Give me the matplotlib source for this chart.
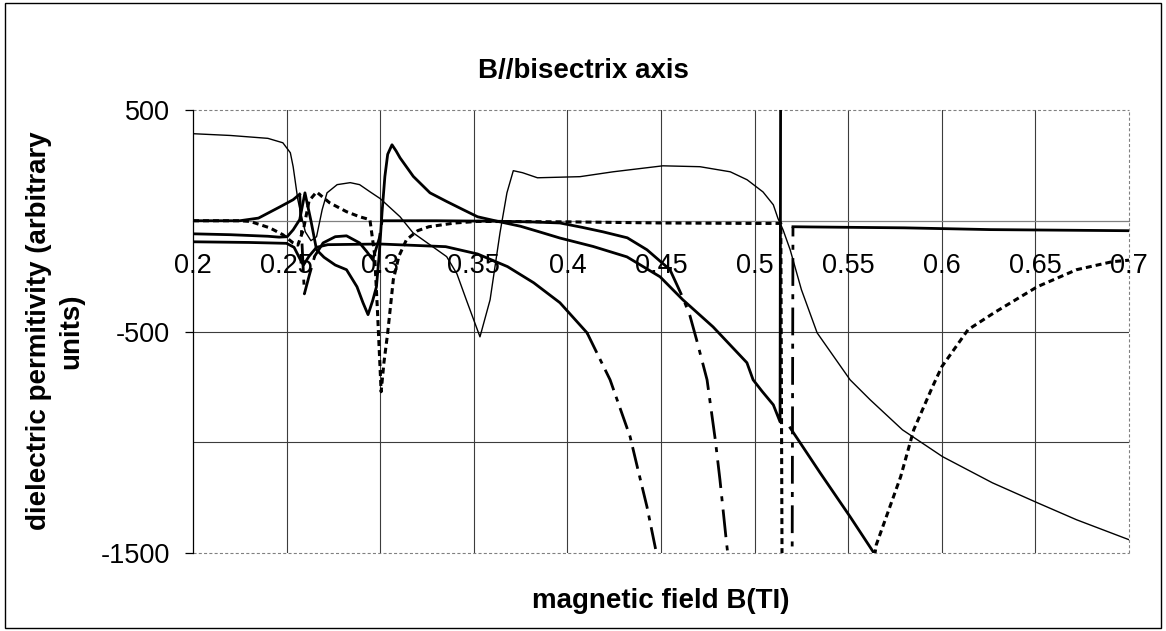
import numpy as np
import matplotlib
matplotlib.use("Agg")
import matplotlib.pyplot as plt
from matplotlib.lines import Line2D
from matplotlib.patches import Rectangle

plt.rcParams["font.family"] = ["Liberation Sans", "DejaVu Sans"]
plt.rcParams["axes.unicode_minus"] = False
plt.rcParams["lines.scale_dashes"] = False

nan = np.nan

# thin solid curve
A_x = [0.200, 0.220, 0.240, 0.248, 0.252, 0.2535, 0.2545, 0.256, 0.258, 0.260,
       0.263, 0.266, 0.269, 0.2716, 0.277, 0.284, 0.289, 0.2945, 0.300, 0.3106,
       0.3175, 0.328, 0.3355, 0.341, 0.346, 0.3533, 0.3587, 0.364, 0.3677, 0.3711,
       0.376, 0.384, 0.4067, 0.4244, 0.451, 0.4708, 0.487, 0.496, 0.5045, 0.510,
       0.5125, 0.5152, 0.519, 0.525, 0.5334, 0.551, 0.5617, 0.579, 0.6004, 0.627,
       0.651, 0.672, 0.700]
A_y = [393, 385, 372, 352, 307, 244, 185, 95, 18, -50,
       -90, -72, 50, 126, 163, 172, 163, 131, 100, 18,
       -54, -117, -162, -240, -357, -524, -357, -54, 126, 226,
       217, 194, 199, 221, 248, 244, 221, 185, 130, 72,
       10, -41, -131, -311, -506, -718, -808, -944, -1065, -1183,
       -1273, -1350, -1440]

# thick solid curve
P_x = [0.200, 0.220, 0.240, 0.246, 0.2503, 0.2535, 0.257, 0.2598, 0.263, 0.266,
       0.270, 0.276, 0.282, 0.2876, 0.2908, 0.2935, 0.296, 0.298, 0.2995, 0.301,
       0.3025, 0.304, 0.3063, 0.3085, 0.3106, 0.3177, 0.3266, 0.3355, 0.3443, 0.352,
       0.364, 0.375, 0.385, 0.396, 0.4137, 0.4318, 0.4495, 0.4617, 0.4778, 0.4959,
       0.4992, 0.504, 0.510, 0.5136, 0.5145, nan, 0.519, 0.5243, 0.535, 0.551,
       0.5563, 0.5633, 0.566]
P_y = [-59, -63, -70, -74, -72, -41, 5, 126, 0, -131,
       -165, -200, -221, -298, -370, -424, -360, -298, -150, 40,
       200, 300, 343, 315, 284, 200, 126, 87, 50, 18,
       -5, -25, -50, -78, -116, -163, -253, -357, -479, -641,
       -718, -770, -831, -908, 3500, nan, -935, -1002, -1138, -1336,
       -1404, -1494, -1540]

# long dash - dot curve (first)
C_x = [0.200, 0.230, 0.250, 0.254, 0.257, 0.259, 0.262, 0.266, 0.272, 0.300,
       0.335, 0.352, 0.368, 0.382, 0.396, 0.4105, 0.4228, 0.4335, 0.4377, 0.4425,
       0.4474, 0.449]
C_y = [-95, -98, -102, -120, -170, -200, -160, -120, -108, -105,
       -117, -150, -207, -280, -370, -506, -718, -975, -1124, -1291,
       -1494, -1600]

# long dash - dot curve (second)
D_x = [0.200, 0.225, 0.235, 0.2465, 0.2535, 0.257, 0.2595, 0.262, 0.265, 0.2695,
       0.276, 0.282, 0.289, 0.2929, 0.296, 0.2995, 0.301, 0.330, 0.360, 0.380,
       0.396, 0.408, 0.419, 0.432, 0.4425, 0.4548, 0.4617, 0.4655, 0.469, 0.4746,
       0.479, 0.4815, 0.485, 0.487, 0.5195, 0.5205, 0.530, 0.580, 0.626, 0.700]
D_y = [0, 0, 12, 63, 95, 120, -330, -250, -160, -100,
       -72, -68, -100, -140, -176, -80, 0, 0, -2, -5,
       -10, -30, -50, -77, -131, -221, -348, -430, -537, -718,
       -989, -1170, -1454, -1600, -3500, -27, -28, -32, -40, -45]

# short dash curve
E_x = [0.200, 0.225, 0.2305, 0.241, 0.248, 0.2535, 0.256, 0.259, 0.262, 0.266,
       0.273, 0.282, 0.289, 0.2945, 0.297, 0.2985, 0.3005, 0.302, 0.304, 0.307,
       0.310, 0.314, 0.320, 0.326, 0.340, 0.352, 0.400, 0.450, 0.500, 0.514,
       0.5155, nan, 0.5625, 0.565, 0.578, 0.585, 0.595, 0.600, 0.614, 0.628,
       0.651, 0.672, 0.691, 0.700]
E_y = [0, 0, -3, -32, -63, -100, -110, -40, 90, 130,
       81, 41, 18, 5, -150, -400, -772, -640, -506, -266,
       -160, -86, -45, -27, -10, -3, -5, -10, -12, -12,
       -3500, nan, -1600, -1463, -1156, -944, -750, -659, -492, -415,
       -298, -221, -185, -178]

x_ticks = [0.2, 0.25, 0.3, 0.35, 0.4, 0.45, 0.5, 0.55, 0.6, 0.65, 0.7]
x_labels = ["0.2", "0.25", "0.3", "0.35", "0.4", "0.45", "0.5", "0.55", "0.6", "0.65", "0.7"]
y_grid = [-1500, -1000, -500, 0, 500]
y_ticks = [500, -500, -1500]

W, H = 1166, 631
fig = plt.figure(figsize=(W / 100, H / 100), dpi=100)
ax = fig.add_axes([193 / W, (H - 553) / H, 936 / W, 443 / H])
ax.set_xlim(0.2, 0.7)
ax.set_ylim(-1500, 500)

# chart frame
fig.patches.append(Rectangle((5 / W, 3 / H), 1156 / W, 625 / H, transform=fig.transFigure,
                             fill=False, edgecolor="black", linewidth=1.0))

# gridlines (interior only, edges are the dashed plot border)
for xv in x_ticks[1:-1]:
    ax.axvline(xv, color="#3c3c3c", lw=0.8, zorder=1)
for yv in y_grid[1:-1]:
    if yv != 0:
        ax.axhline(yv, color="#3c3c3c", lw=0.8, zorder=1)

# plot area border: solid left axis, dashed grey elsewhere
for sp in ("top", "right"):
    ax.spines[sp].set_visible(False)
ax.spines["left"].set_color("black")
ax.spines["left"].set_linewidth(0.9)
ax.spines["bottom"].set_position(("data", 0))
ax.spines["bottom"].set_color("#808080")
ax.spines["bottom"].set_linewidth(0.9)
border = dict(color="#808080", lw=0.8, linestyle=(0, (2.2, 1.6)), transform=ax.transAxes,
              clip_on=False, zorder=1)
ax.add_line(Line2D([0, 1], [1, 1], **border))
ax.add_line(Line2D([1, 1], [0, 1], **border))
ax.add_line(Line2D([0, 1], [0, 0], **border))

ax.set_xticks(x_ticks)
ax.set_xticklabels(x_labels)
ax.tick_params(axis="x", length=0, pad=23, labelsize=19.5)
ax.set_yticks(y_ticks)
ax.set_yticklabels([str(v) for v in y_ticks])
ax.tick_params(axis="y", direction="out", length=5.8, width=0.9, pad=10.5, labelsize=19.5)


def draw_curve(xs, ys, lw, dash=None, steep=None):
    """Excel-like rendering: dense flat parts look solid, steep parts show the dash."""
    xs = np.asarray(xs, float)
    ys = np.asarray(ys, float)
    if steep is None:
        ax.plot(xs, ys, color="black", lw=lw, linestyle=dash or "-", zorder=3,
                solid_joinstyle="round", dash_capstyle="butt")
        return
    pts = ax.transData.transform(np.column_stack([xs, ys]))
    d = np.diff(pts, axis=0)
    is_steep = np.abs(d[:, 1]) > steep * np.abs(d[:, 0])
    start = 0
    n = len(is_steep)
    for i in range(1, n + 1):
        if i == n or is_steep[i] != is_steep[start]:
            seg = slice(start, i + 1)
            ax.plot(xs[seg], ys[seg], color="black", lw=lw,
                    linestyle=dash if is_steep[start] else "-", zorder=3,
                    solid_joinstyle="round", dash_capstyle="butt")
            start = i


draw_curve(A_x, A_y, 1.0)
draw_curve(P_x, P_y, 2.0)
draw_curve(C_x, C_y, 2.0, dash=(0, (16, 5, 3.6, 5)), steep=2.0)
draw_curve(D_x, D_y, 2.0, dash=(0, (20, 6, 3.6, 6)), steep=2.0)
draw_curve(E_x, E_y, 2.2, dash=(0, (4.3, 2.9)))

fig.text(583 / W, 1 - 71 / H, "B//bisectrix axis", ha="center", va="center",
         fontsize=20, fontweight="bold")
fig.text(661 / W, 1 - 601 / H, "magnetic field B(TI)", ha="center", va="center",
         fontsize=20, fontweight="bold")
fig.text(55 / W, 1 - 331 / H, "dielectric permitivity (arbitrary\nunits)", ha="center",
         va="center", rotation=90, fontsize=20, fontweight="bold", linespacing=1.3,
         multialignment="center")

fig.savefig("out.png", dpi=100)
